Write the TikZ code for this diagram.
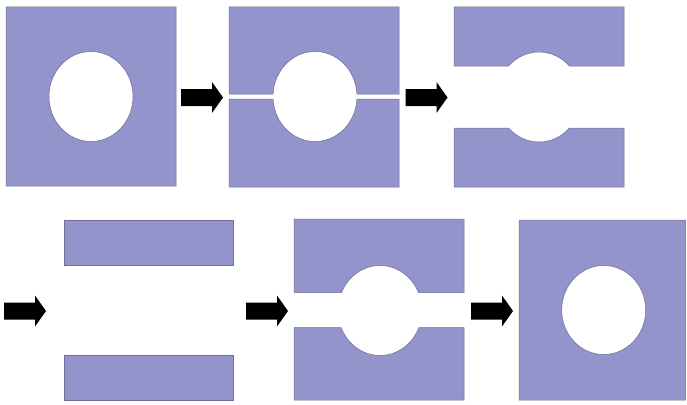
\documentclass[tikz,border=0pt]{standalone}
\usetikzlibrary{calc}
\definecolor{platefill}{RGB}{148,148,205}
\definecolor{plateedge}{RGB}{112,112,148}
\begin{document}
\begin{tikzpicture}[x=1pt,y=-1pt,
  plate/.style={fill=platefill,draw=plateedge,line width=0.5pt,line join=miter},
  hole/.style={x radius=42,y radius=45},
  blockarrow/.pic={\fill[black] (0,-8.5) -- (31,-8.5) -- (31,-15.5) -- (42,0)
      -- (31,15.5) -- (31,8.5) -- (0,8.5) -- cycle;}]
\useasboundingbox[fill=white] (0,0) rectangle (687,404);

% stage 1: whole bored plate
\path[plate,even odd rule] (6,7) rectangle (176,186)
  (91,96.5) ellipse [x radius=42,y radius=45];

% stage 2: plate split across the bore
\path[plate] (229,94) -- (229,7) -- (399,7) -- (399,94) -- (356.94,94)
  arc[start angle=-3.18,end angle=-176.82,hole] -- cycle;
\path[plate] (229,99) -- (273.06,99)
  arc[start angle=176.82,end angle=3.18,hole] -- (399,99) -- (399,187)
  -- (229,187) -- cycle;

% stage 3: split faces machined back
\path[plate] (454,66) -- (454,7) -- (624,7) -- (624,66) -- (569.44,66)
  arc[start angle=-43.54,end angle=-136.46,hole] -- cycle;
\path[plate] (454,128) -- (508.56,128)
  arc[start angle=136.46,end angle=43.54,hole] -- (624,128) -- (624,187)
  -- (454,187) -- cycle;

% stage 4: flat halves
\path[plate] (64,220) rectangle (233,265.7);
\path[plate] (64,355) rectangle (233,400);

% stage 5: halves re-bored
\path[plate] (294,292.5) -- (294,219) -- (464,219) -- (464,292.5) -- (418.49,292.5)
  arc[start angle=-23.58,end angle=-156.42,hole] -- cycle;
\path[plate] (294,327.5) -- (341.11,327.5)
  arc[start angle=157.8,end angle=22.2,hole] -- (464,327.5) -- (464,400)
  -- (294,400) -- cycle;

% stage 6: finished plate
\path[plate,even odd rule] (519,220) rectangle (685.5,400)
  (603.7,310) ellipse [x radius=42,y radius=44.5];

% process arrows
\pic at (181,97.5) {blockarrow};
\pic at (405.5,97.5) {blockarrow};
\pic at (4,311) {blockarrow};
\pic at (246,311) {blockarrow};
\pic at (471,311) {blockarrow};
\end{tikzpicture}
\end{document}
